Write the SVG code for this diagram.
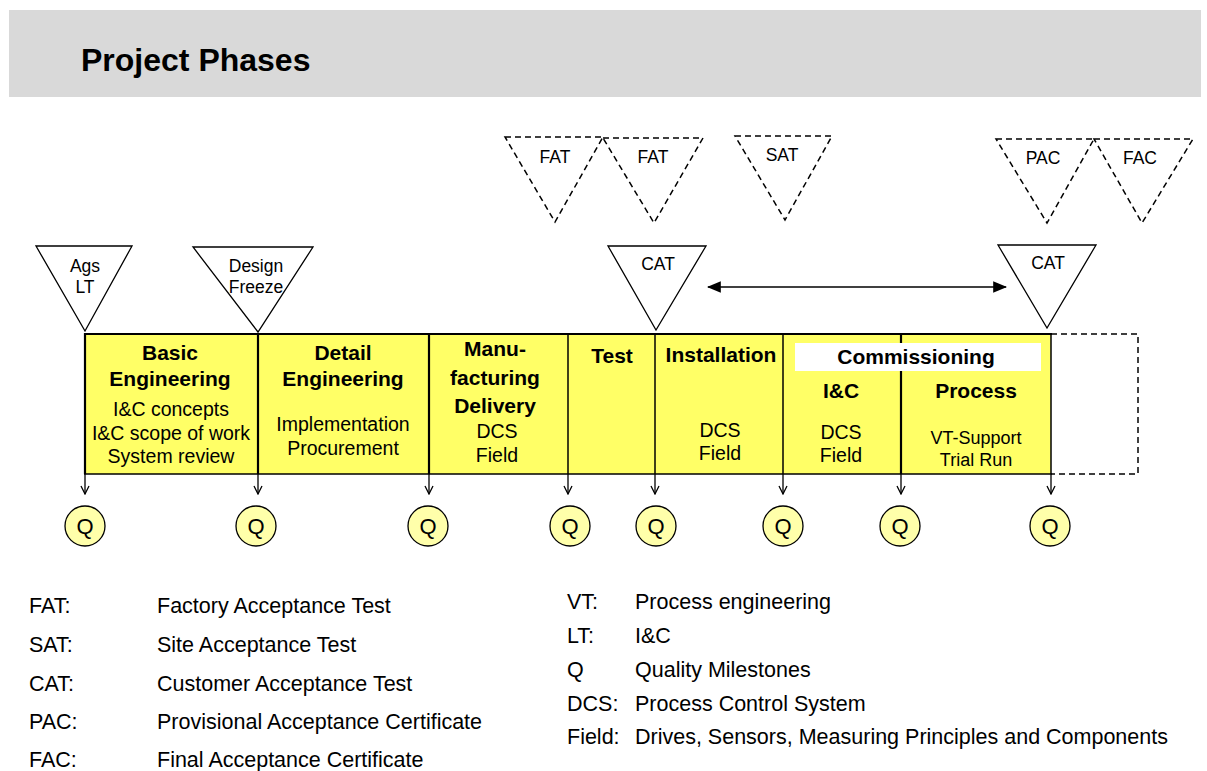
<svg xmlns="http://www.w3.org/2000/svg" width="1207" height="771" viewBox="0 0 1207 771">
  <style>
    text { font-family: "Liberation Sans", Arial, sans-serif; fill: #000; }
    .title { font-size: 32px; font-weight: bold; }
    .head { font-size: 21px; font-weight: bold; text-anchor: middle; }
    .sub { font-size: 19.5px; text-anchor: middle; }
    .tri { fill: #fff; stroke: #000; stroke-width: 1.3; }
    .dtri { fill: none; stroke: #000; stroke-width: 1.5; stroke-dasharray: 6 4; }
    .tlabel { font-size: 17.5px; text-anchor: middle; }
    .q { fill: #ffffaa; stroke: #000; stroke-width: 1.3; }
    .qtext { font-size: 22px; text-anchor: middle; }
    .leg { font-size: 21.5px; }
    .div { stroke: #000; stroke-width: 1.5; }
    .divb { stroke: #000; stroke-width: 2.2; }
    .drop { stroke: #000; stroke-width: 1.3; fill: none; marker-end: url(#vee); }
  </style>
  <defs>
    <!-- open chevron for the drop lines -->
    <marker id="vee" viewBox="0 0 10 10" refX="9" refY="5" markerWidth="10" markerHeight="10" markerUnits="userSpaceOnUse" orient="auto">
      <path d="M1,1 L9,5 L1,9" fill="none" stroke="#000" stroke-width="1.3"/>
    </marker>
    <!-- filled head for the CAT span -->
    <marker id="solid" viewBox="0 0 12 10" refX="11" refY="5" markerWidth="14" markerHeight="12" markerUnits="userSpaceOnUse" orient="auto-start-reverse">
      <path d="M0,0 L12,5 L0,10 Z" fill="#000"/>
    </marker>
  </defs>

  <!-- header bar -->
  <g id="header">
    <rect x="9" y="10" width="1192" height="87" fill="#d9d9d9"/>
    <text class="title" x="81" y="71">Project Phases</text>
  </g>

  <!-- phase band -->
  <g id="band">
    <rect x="85" y="334" width="966" height="140" fill="#ffff66"/>
    <path d="M1051,334 H1138 V474 H1051" fill="none" stroke="#000" stroke-width="1.5" stroke-dasharray="6 4"/>
    <line x1="84" y1="334" x2="1052" y2="334" stroke="#000" stroke-width="2.2"/>
    <line x1="84" y1="474" x2="1052" y2="474" stroke="#000" stroke-width="1.5"/>
    <line class="divb" x1="85" y1="333" x2="85" y2="474"/>
    <line class="divb" x1="258" y1="333" x2="258" y2="474"/>
    <line class="divb" x1="429" y1="333" x2="429" y2="474"/>
    <line class="div" x1="568" y1="333" x2="568" y2="474"/>
    <line class="div" x1="655" y1="333" x2="655" y2="474"/>
    <line class="div" x1="783" y1="333" x2="783" y2="474"/>
    <line class="divb" x1="901" y1="333" x2="901" y2="474"/>
    <line class="div" x1="1051" y1="333" x2="1051" y2="474"/>
  </g>

  <g id="phase-basic">
    <text class="head" x="170" y="360">Basic</text>
    <text class="head" x="170" y="386">Engineering</text>
    <text class="sub" x="171" y="416">I&amp;C concepts</text>
    <text class="sub" x="171" y="440">I&amp;C scope of work</text>
    <text class="sub" x="171" y="463">System review</text>
  </g>
  <g id="phase-detail">
    <text class="head" x="343" y="360">Detail</text>
    <text class="head" x="343" y="386">Engineering</text>
    <text class="sub" x="343" y="431">Implementation</text>
    <text class="sub" x="343" y="455">Procurement</text>
  </g>
  <g id="phase-manufacturing">
    <text class="head" x="495" y="356">Manu-</text>
    <text class="head" x="495" y="385">facturing</text>
    <text class="head" x="495" y="413">Delivery</text>
    <text class="sub" x="497" y="438">DCS</text>
    <text class="sub" x="497" y="462">Field</text>
  </g>
  <g id="phase-test">
    <text class="head" x="612" y="363">Test</text>
  </g>
  <g id="phase-installation">
    <text class="head" x="721" y="362">Installation</text>
    <text class="sub" x="720" y="437">DCS</text>
    <text class="sub" x="720" y="460">Field</text>
  </g>
  <g id="phase-commissioning">
    <rect x="795" y="343" width="246" height="28" fill="#fff"/>
    <text class="head" x="916" y="364">Commissioning</text>
  </g>
  <g id="phase-ic">
    <text class="head" x="841" y="398">I&amp;C</text>
    <text class="sub" x="841" y="439">DCS</text>
    <text class="sub" x="841" y="462">Field</text>
  </g>
  <g id="phase-process">
    <text class="head" x="976" y="398">Process</text>
    <text class="sub" x="976" y="444" style="font-size:18px">VT-Support</text>
    <text class="sub" x="976" y="466" style="font-size:18px">Trial Run</text>
  </g>

  <!-- milestone triangles -->
  <g id="ms-ags">
    <polygon class="tri" points="36,246 132,246 85,331"/>
    <text class="tlabel" x="85" y="272">Ags</text>
    <text class="tlabel" x="85" y="293">LT</text>
  </g>
  <g id="ms-design-freeze">
    <polygon class="tri" points="193,247 313,247 258,332"/>
    <text class="tlabel" x="256" y="272">Design</text>
    <text class="tlabel" x="256" y="293">Freeze</text>
  </g>
  <g id="ms-cat1">
    <polygon class="tri" points="608,246 706,246 656,330"/>
    <text class="tlabel" x="658" y="270">CAT</text>
  </g>
  <g id="ms-cat2">
    <polygon class="tri" points="998,245 1096,245 1047,328"/>
    <text class="tlabel" x="1048" y="269">CAT</text>
  </g>
  <g id="ms-fat1">
    <polygon class="dtri" points="505,137 603,137 555,222"/>
    <text class="tlabel" x="555" y="163">FAT</text>
  </g>
  <g id="ms-fat2">
    <polygon class="dtri" points="603,138 703,138 654,223"/>
    <text class="tlabel" x="653" y="163">FAT</text>
  </g>
  <g id="ms-sat">
    <polygon class="dtri" points="735,136 832,136 785,220"/>
    <text class="tlabel" x="782" y="161">SAT</text>
  </g>
  <g id="ms-pac">
    <polygon class="dtri" points="996,139 1094,139 1047,223"/>
    <text class="tlabel" x="1043" y="164">PAC</text>
  </g>
  <g id="ms-fac">
    <polygon class="dtri" points="1094,139 1193,139 1142,223"/>
    <text class="tlabel" x="1140" y="164">FAC</text>
  </g>

  <!-- quality milestones -->
  <g id="q1"><circle class="q" cx="85" cy="526" r="20"/><text class="qtext" x="85" y="534">Q</text></g>
  <g id="q2"><circle class="q" cx="256" cy="526" r="20"/><text class="qtext" x="256" y="534">Q</text></g>
  <g id="q3"><circle class="q" cx="428" cy="526" r="20"/><text class="qtext" x="428" y="534">Q</text></g>
  <g id="q4"><circle class="q" cx="570" cy="526" r="20"/><text class="qtext" x="570" y="534">Q</text></g>
  <g id="q5"><circle class="q" cx="656" cy="526" r="20"/><text class="qtext" x="656" y="534">Q</text></g>
  <g id="q6"><circle class="q" cx="783" cy="526" r="20"/><text class="qtext" x="783" y="534">Q</text></g>
  <g id="q7"><circle class="q" cx="900" cy="526" r="20"/><text class="qtext" x="900" y="534">Q</text></g>
  <g id="q8"><circle class="q" cx="1050" cy="526" r="20"/><text class="qtext" x="1050" y="534">Q</text></g>

  <!-- connectors -->
  <g id="connectors">
    <line class="drop" x1="85" y1="474" x2="85" y2="494"/>
    <line class="drop" x1="258" y1="474" x2="258" y2="494"/>
    <line class="drop" x1="429" y1="474" x2="429" y2="494"/>
    <line class="drop" x1="568" y1="474" x2="568" y2="494"/>
    <line class="drop" x1="655" y1="474" x2="655" y2="494"/>
    <line class="drop" x1="783" y1="474" x2="783" y2="494"/>
    <line class="drop" x1="901" y1="474" x2="901" y2="494"/>
    <line class="drop" x1="1051" y1="474" x2="1051" y2="494"/>
    <line x1="708" y1="287" x2="1006" y2="287" stroke="#000" stroke-width="1.5" marker-start="url(#solid)" marker-end="url(#solid)"/>
  </g>

  <!-- abbreviations -->
  <g id="legend-left">
    <text class="leg" x="29" y="613">FAT:</text><text class="leg" x="157" y="613">Factory Acceptance Test</text>
    <text class="leg" x="29" y="652">SAT:</text><text class="leg" x="157" y="652">Site Acceptance Test</text>
    <text class="leg" x="29" y="691">CAT:</text><text class="leg" x="157" y="691">Customer Acceptance Test</text>
    <text class="leg" x="29" y="729">PAC:</text><text class="leg" x="157" y="729">Provisional Acceptance Certificate</text>
    <text class="leg" x="29" y="767">FAC:</text><text class="leg" x="157" y="767">Final Acceptance Certificate</text>
  </g>
  <g id="legend-right">
    <text class="leg" x="567" y="609">VT:</text><text class="leg" x="635" y="609">Process engineering</text>
    <text class="leg" x="567" y="643">LT:</text><text class="leg" x="635" y="643">I&amp;C</text>
    <text class="leg" x="567" y="677">Q</text><text class="leg" x="635" y="677">Quality Milestones</text>
    <text class="leg" x="567" y="711">DCS:</text><text class="leg" x="635" y="711">Process Control System</text>
    <text class="leg" x="567" y="744">Field:</text><text class="leg" x="635" y="744">Drives, Sensors, Measuring Principles and Components</text>
  </g>
</svg>
